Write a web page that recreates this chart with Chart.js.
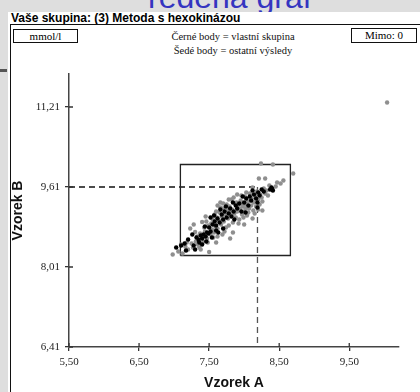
<!DOCTYPE html>
<html lang="cs">
<head>
<meta charset="utf-8">
<script src="https://cdn.jsdelivr.net/npm/chart.js@4"></script>
<style>
    html, body { margin: 0; padding: 0; }
    body { width: 420px; height: 392px; background: #dedede; position: relative; overflow: hidden; font-family: "Liberation Serif", serif; }
    .heading { position: absolute; left: 148px; top: -19px; font: 32px/32px "Liberation Sans", Arial, sans-serif; color: #3535c0; white-space: nowrap; }
    .panel { position: absolute; left: 8px; top: 12px; right: 0; bottom: 0; background: #fff; }
    .panel-title { position: absolute; left: 11px; top: 11px; font: bold 12px/14px "Liberation Sans", Arial, sans-serif; color: #000; white-space: nowrap; }
    .frame { position: absolute; left: 10px; top: 24px; width: 420px; height: 380px; border-left: 1.5px solid #111; border-top: 1.5px solid #111; }
    .box { position: absolute; border: 1.3px solid #111; font-size: 11px; line-height: 12px; text-align: center; }
    .legend { position: absolute; left: 140px; width: 186px; text-align: center; font-size: 10.5px; color: #111; }
    .side-bar { position: absolute; left: 0; top: 69px; width: 7px; height: 3px; background: #555; }
    canvas { position: absolute; left: 0; top: 0; }
</style>
</head>
<body>
<div class="heading">redená graf</div>
<div class="side-bar"></div>
<div class="panel"></div>
<div class="panel-title">Vaše skupina: (3) Metoda s hexokinázou</div>
<div class="frame"></div>
<div class="box" style="left:13px; top:29px; width:63px; height:12px;">mmol/l</div>
<div class="box" style="left:351px; top:28px; width:64px; height:13px;">Mimo: 0</div>
<div class="legend" style="top:31px;">Černé body = vlastní skupina</div>
<div class="legend" style="top:45px;">Šedé body = ostatní výsledy</div>
<canvas id="scatterChart" width="420" height="392"></canvas>

<script>
// Osy
const xTicks = [5.5, 6.5, 7.5, 8.5, 9.5];
const yTicks = [6.41, 8.01, 9.61, 11.21];
const xRange = [5.5, 10.21];
const yRange = [6.41, 11.87];

// Cílová hodnota a obdélník přijatelnosti
const target = [8.19, 9.61];
const limitBox = [7.09, 8.24, 8.66, 10.06]; // xMin, yMin, xMax, yMax

// Vlastní skupina (černé body)
const ownPoints = [
    [7.03, 8.40], [7.10, 8.44], [7.17, 8.34], [7.15, 8.48], [7.28, 8.44], [7.32, 8.60], [7.35, 8.55],
    [7.38, 8.64], [7.40, 8.58], [7.42, 8.66], [7.45, 8.62], [7.47, 8.70], [7.44, 8.82], [7.50, 8.80],
    [7.52, 8.72], [7.55, 8.86], [7.58, 8.92], [7.60, 8.84], [7.62, 8.98], [7.57, 9.04], [7.65, 8.90],
    [7.68, 9.06], [7.70, 8.96], [7.72, 9.12], [7.75, 9.00], [7.78, 9.08], [7.80, 9.18], [7.82, 9.02],
    [7.85, 9.12], [7.88, 9.24], [7.90, 9.18], [7.93, 9.28], [7.96, 9.12], [8.00, 9.30], [8.03, 9.38],
    [8.06, 9.24], [8.08, 9.42], [8.10, 9.34], [8.14, 9.46], [8.17, 9.38], [8.20, 9.50], [8.22, 9.44],
    [8.25, 9.56], [8.19, 9.30], [8.19, 9.20], [8.28, 9.52], [8.37, 9.56], [8.39, 9.60], [8.41, 9.54],
    [8.40, 9.57], [7.36, 8.50], [7.40, 8.46], [7.46, 8.52], [7.49, 8.68], [7.60, 8.74], [7.66, 9.16],
    [7.74, 9.22], [7.84, 9.30], [7.98, 9.42], [8.12, 9.54], [7.26, 8.66], [7.20, 8.56], [7.54, 8.60],
    [7.63, 8.70], [7.52, 9.00], [7.70, 8.78], [8.02, 9.10], [7.86, 8.96], [7.30, 8.36]
];

// Ostatní výsledky (šedé body)
const otherPoints = [
    [10.04, 11.30], [8.24, 10.08], [8.41, 10.06], [8.70, 9.88], [8.21, 9.78], [8.30, 9.78], [8.56, 9.74],
    [8.47, 9.70], [6.98, 8.26], [7.06, 8.32], [7.12, 8.28], [7.16, 8.42], [7.20, 8.36], [7.23, 8.78],
    [7.25, 8.48], [7.27, 8.40], [7.30, 8.71], [7.31, 8.52], [7.34, 8.46], [7.37, 8.68], [7.39, 8.60],
    [7.40, 8.91], [7.42, 8.52], [7.44, 8.72], [7.47, 8.58], [7.49, 8.84], [7.50, 8.31], [7.52, 8.66],
    [7.54, 8.76], [7.55, 8.96], [7.57, 8.70], [7.59, 8.82], [7.61, 9.00], [7.62, 8.78], [7.64, 8.94],
    [7.65, 9.10], [7.67, 8.86], [7.68, 9.02], [7.70, 9.18], [7.71, 8.92], [7.73, 9.06], [7.74, 8.80],
    [7.76, 9.14], [7.77, 8.98], [7.79, 9.22], [7.80, 8.58], [7.81, 9.04], [7.83, 9.16], [7.84, 8.90],
    [7.86, 9.08], [7.87, 9.28], [7.88, 9.00], [7.90, 9.12], [7.91, 9.24], [7.93, 8.96], [7.94, 9.18],
    [7.95, 9.34], [7.97, 9.06], [7.98, 9.22], [8.00, 9.12], [8.01, 9.42], [8.02, 9.26], [8.04, 9.04],
    [8.05, 9.32], [8.07, 9.18], [8.08, 9.48], [8.10, 9.24], [8.11, 9.38], [8.13, 9.14], [8.14, 9.30],
    [8.16, 9.44], [8.17, 9.22], [8.18, 9.52], [8.20, 9.36], [8.22, 9.26], [8.23, 9.46], [8.25, 9.40],
    [8.26, 9.32], [8.28, 9.58], [8.30, 9.48], [8.32, 9.54], [8.34, 9.44], [8.36, 9.64], [8.45, 9.62],
    [8.52, 9.68], [8.12, 9.60], [7.96, 9.44], [7.82, 9.36], [7.66, 9.20], [7.58, 9.06], [7.46, 8.92],
    [7.62, 8.62], [7.78, 8.84], [7.92, 8.88], [8.06, 9.10], [7.72, 8.72], [7.85, 9.40], [7.75, 9.26],
    [7.69, 8.66], [7.53, 8.88], [7.89, 9.30], [8.03, 9.50], [7.99, 9.00], [8.15, 9.08], [7.60, 9.12],
    [7.43, 8.80], [7.33, 8.62], [7.18, 8.50], [7.36, 8.40], [7.48, 8.50], [7.10, 8.46], [7.56, 8.60],
    [7.70, 9.28], [7.80, 9.10], [7.96, 9.28], [8.09, 9.34], [8.20, 9.16], [8.02, 9.18],
    [7.28, 8.86], [7.45, 9.02], [7.62, 9.24], [7.78, 9.36], [7.90, 9.46], [7.60, 8.50], [7.84, 8.70],
    [8.00, 8.86], [8.12, 8.98], [8.26, 9.14], [7.38, 8.36], [7.66, 9.30]
];

function toXY(list) {
    return list.map(function (p) { return { x: p[0], y: p[1] }; });
}

function fmt(v) {
    return v.toFixed(2).replace(".", ",");
}

// Malé vnitřní čárky os (v originále čárky protínají osu)
const innerTicks = {
    id: "innerTicks",
    afterDraw(chart) {
        const ctx = chart.ctx;
        const xs = chart.scales.x;
        const ys = chart.scales.y;
        ctx.save();
        ctx.strokeStyle = "#333";
        ctx.lineWidth = 1.3;
        ctx.beginPath();
        xTicks.forEach(function (v) {
            const px = xs.getPixelForValue(v);
            ctx.moveTo(px, ys.bottom);
            ctx.lineTo(px, ys.bottom - 4);
        });
        yTicks.forEach(function (v) {
            const py = ys.getPixelForValue(v);
            ctx.moveTo(xs.left, py);
            ctx.lineTo(xs.left + 4, py);
        });
        ctx.stroke();
        ctx.restore();
    }
};

function initScatterChart() {
    const ctx = document.getElementById("scatterChart").getContext("2d");

    const boxLine = [
        { x: limitBox[0], y: limitBox[1] }, { x: limitBox[2], y: limitBox[1] },
        { x: limitBox[2], y: limitBox[3] }, { x: limitBox[0], y: limitBox[3] },
        { x: limitBox[0], y: limitBox[1] }
    ];

    const tickFont = { family: "'Liberation Serif', serif", size: 11 };
    const titleFont = { family: "'Liberation Sans', Arial, sans-serif", size: 14, weight: "bold", lineHeight: 1 };

    new Chart(ctx, {
        type: "scatter",
        data: {
            datasets: [
                {
                    data: toXY(ownPoints),
                    backgroundColor: "#000",
                    borderWidth: 0,
                    pointRadius: 2.2,
                    order: 0,
                },
                {
                    data: toXY(otherPoints),
                    backgroundColor: "#8f8f8f",
                    borderWidth: 0,
                    pointRadius: 2.2,
                    order: 1,
                },
                {
                    data: boxLine,
                    showLine: true,
                    borderColor: "#222",
                    borderWidth: 1.3,
                    pointRadius: 0,
                    order: 2,
                },
                {
                    data: [{ x: xRange[0], y: target[1] }, { x: target[0], y: target[1] }],
                    showLine: true,
                    borderColor: "#111",
                    borderWidth: 1.3,
                    borderDash: [6, 4],
                    pointRadius: 0,
                    order: 3,
                },
                {
                    data: [{ x: target[0], y: target[1] }, { x: target[0], y: yRange[0] }],
                    showLine: true,
                    borderColor: "#555",
                    borderWidth: 1.3,
                    borderDash: [6, 4],
                    pointRadius: 0,
                    order: 3,
                },
            ],
        },
        options: {
            responsive: false,
            animation: false,
            events: [],
            layout: { padding: { left: 8, right: 21, top: 74, bottom: 2 } },
            plugins: {
                legend: { display: false },
                tooltip: { enabled: false },
            },
            scales: {
                x: {
                    type: "linear",
                    min: xRange[0],
                    max: xRange[1],
                    afterBuildTicks: function (scale) {
                        scale.ticks = xTicks.map(function (v) { return { value: v }; });
                    },
                    afterFit: function (scale) { scale.height = 43; },
                    grid: { drawOnChartArea: false, tickLength: 4, color: "#333", lineWidth: 1.3 },
                    border: { color: "#444", width: 1.5 },
                    ticks: {
                        color: "#222",
                        font: tickFont,
                        padding: 5,
                        maxRotation: 0,
                        callback: function (v) { return fmt(v); },
                    },
                    title: { display: true, text: "Vzorek A", color: "#111", font: titleFont, padding: 0 },
                },
                y: {
                    type: "linear",
                    min: yRange[0],
                    max: yRange[1],
                    afterBuildTicks: function (scale) {
                        scale.ticks = yTicks.map(function (v) { return { value: v }; });
                    },
                    afterFit: function (scale) { scale.width = 61; },
                    grid: { drawOnChartArea: false, tickLength: 4, color: "#333", lineWidth: 1.3 },
                    border: { color: "#444", width: 1.5 },
                    ticks: {
                        color: "#222",
                        font: tickFont,
                        padding: 5,
                        callback: function (v) { return fmt(v); },
                    },
                    title: { display: true, text: "Vzorek B", color: "#111", font: titleFont, padding: { top: 3, bottom: 0 } },
                },
            },
        },
        plugins: [innerTicks],
    });
}

initScatterChart();
</script>
</body>
</html>
